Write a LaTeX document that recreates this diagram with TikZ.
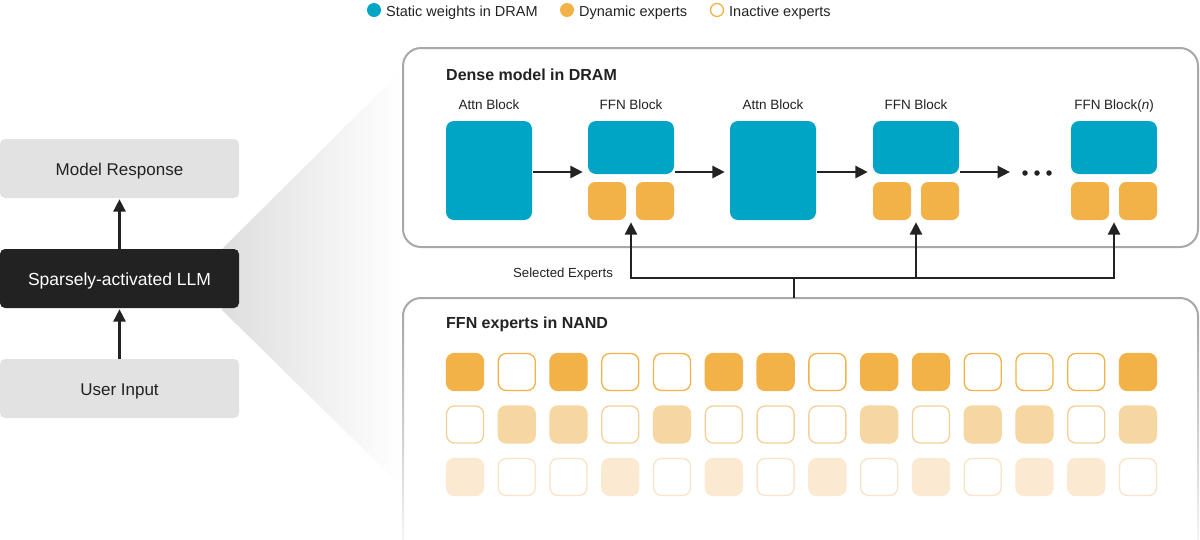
\documentclass[tikz,border=0pt]{standalone}
\usepackage{fontspec}
\setmainfont{Liberation Sans}
\usetikzlibrary{arrows.meta,calc}
\definecolor{tealw}{HTML}{00A4C4}
\definecolor{orng}{HTML}{F2B248}
\definecolor{orngB}{HTML}{F6D7A2}
\definecolor{orngBl}{HTML}{F4D099}
\definecolor{orngC}{HTML}{FBE9D2}
\definecolor{orngCl}{HTML}{FAE3C6}
\definecolor{ink}{HTML}{222222}
\definecolor{lgray}{HTML}{E2E2E2}
\definecolor{frame}{HTML}{A8A8A8}
\begin{document}
\begin{tikzpicture}[x=1pt,y=-1pt,
  lbox/.style={fill=lgray, rounded corners=5pt, minimum width=239pt, minimum height=59pt, inner sep=0pt, text=ink, text height=14pt, text depth=0pt, font=\fontsize{17}{20}\selectfont},
  dbox/.style={lbox, fill=ink, text=white, font=\fontsize{17.5}{20}\selectfont},
  arr/.style={draw=ink, line width=2.7pt, -{Triangle[length=12.5pt,width=12pt]}},
  tblock/.style={fill=tealw, rounded corners=8pt, inner sep=0pt},
  oexp/.style={fill=orng, rounded corners=7pt, inner sep=0pt, minimum width=38pt, minimum height=38pt},
  blabel/.style={text=ink, font=\fontsize{13.5}{16}\selectfont, inner sep=0pt, anchor=base},
  title/.style={text=ink, font=\bfseries\fontsize{16}{19}\selectfont, inner sep=0pt, anchor=base west},
  legtext/.style={text=ink, font=\fontsize{14.5}{17}\selectfont, inner sep=0pt, anchor=base west},
  cellbase/.style={rounded corners=8pt, inner sep=0pt, minimum width=37pt, minimum height=37pt, line width=1.3pt},
  cell11/.style={cellbase, fill=orng, draw=orng},
  cell10/.style={cellbase, fill=white, draw=orng},
  cell21/.style={cellbase, fill=orngB, draw=orngB},
  cell20/.style={cellbase, fill=white, draw=orngBl},
  cell31/.style={cellbase, fill=orngC, draw=orngC},
  cell30/.style={cellbase, fill=white, draw=orngCl},
  dot/.style={circle, fill=ink, inner sep=0pt, minimum size=5.5pt},
  sideline/.style={top color=frame, bottom color=white}
]
\useasboundingbox (0,0) rectangle (1200,539);

% wedge
\shade[left color=black!13, right color=white] (222,249) -- (402,70) -- (402,487) -- (222,310) -- cycle;

% legend
\node[circle, fill=tealw, inner sep=0pt, minimum size=14pt] (l1) at (374,10) {};
\node[legtext] (l1t) at (386,16.5) {Static weights in DRAM};
\node[circle, fill=orng, inner sep=0pt, minimum size=14pt] (l2) at (567,10) {};
\node[legtext] (l2t) at (579,16.5) {Dynamic experts};
\node[circle, draw=orng, fill=white, line width=1.3pt, inner sep=0pt, minimum size=13pt] (l3) at (717,10) {};
\node[legtext] (l3t) at (729,16.5) {Inactive experts};

% left column
\node[lbox] (resp) at (119.5,168.5) {Model Response};
\node[dbox] (llm) at (119.5,278.5) {Sparsely-activated LLM};
\node[lbox] (inp) at (119.5,388.5) {User Input};
\draw[arr, shorten >=1pt] (llm.north) -- (resp.south);
\draw[arr, shorten >=1pt] (inp.north) -- (llm.south);

% dense box
\node[draw=frame, line width=2pt, fill=white, rounded corners=18pt, minimum width=795pt, minimum height=199pt, inner sep=0pt] (dense) at (800.5,147.5) {};
\node[title] (denseT) at (446,80) {Dense model in DRAM};

% blocks
\node[tblock, minimum width=86pt, minimum height=99pt] (attn1) at (489,170.5) {};
\node[tblock, minimum width=86pt, minimum height=53pt] (ffn1) at (631,147.5) {};
\node[oexp] (e1a) at (607,201) {};
\node[oexp] (e1b) at (655,201) {};
\node[tblock, minimum width=86pt, minimum height=99pt] (attn2) at (773,170.5) {};
\node[tblock, minimum width=86pt, minimum height=53pt] (ffn2) at (916,147.5) {};
\node[oexp] (e2a) at (892,201) {};
\node[oexp] (e2b) at (940,201) {};
\node[tblock, minimum width=86pt, minimum height=53pt] (ffn3) at (1114,147.5) {};
\node[oexp] (e3a) at (1090,201) {};
\node[oexp] (e3b) at (1138,201) {};

\node[blabel] (la1) at (489,109.5) {Attn Block};
\node[blabel] (lf1) at (631,109.5) {FFN Block};
\node[blabel] (la2) at (773,109.5) {Attn Block};
\node[blabel] (lf2) at (916,109.5) {FFN Block};
\node[blabel] (lf3) at (1114,109.5) {FFN Block(\textit{n})};

\node[dot] (d1) at (1025,173) {};
\node[dot] (d2) at (1037,173) {};
\node[dot] (d3) at (1049,173) {};

\coordinate (hy) at (0,172);
\draw[arr, shorten <=1pt, shorten >=5pt] (attn1.east |- hy) -- (ffn1.west |- hy);
\draw[arr, shorten <=1pt, shorten >=5pt] (ffn1.east |- hy) -- (attn2.west |- hy);
\draw[arr, shorten <=1pt, shorten >=5pt] (attn2.east |- hy) -- (ffn2.west |- hy);
\coordinate (dotsin) at (1016,172);
\draw[arr, shorten <=1pt, shorten >=6pt] (ffn2.east |- hy) -- (dotsin);

% NAND box
\fill[white] (404,299) rectangle (1197,539);
\draw[draw=frame, line width=2pt, rounded corners=18pt] (403,316.5) -- (403,298) -- (1198,298) -- (1198,316.5);
\shade[sideline] (402,316) rectangle (404,570);
\shade[sideline] (1197,316) rectangle (1199,570);
\node[title] (nandT) at (446,328) {FFN experts in NAND};
\coordinate (nandtop) at (794,298);
\coordinate (j) at (794,278);

% selected experts connectors
\draw[arr, shorten >=2pt] (nandtop) -- (j) -| (ffn1.south |- e1a.south);
\draw[arr, shorten >=2pt] (nandtop) -- (j) -| (ffn2.south |- e2a.south);
\draw[arr, shorten >=2pt] (nandtop) -- (j) -| (ffn3.south |- e3a.south);
\node[blabel, font=\fontsize{13.2}{16}\selectfont] (sel) at (563,277) {Selected Experts};

% grid
\def\patA{1,0,1,0,0,1,1,0,1,1,0,0,0,1}
\def\patB{0,1,1,0,1,0,0,0,1,0,1,1,0,1}
\def\patC{1,0,0,1,0,1,0,1,0,1,0,1,1,0}
\foreach \v [count=\c] in \patA {\node[cell1\v] (g1-\c) at ({465+51.77*(\c-1)},372) {};}
\foreach \v [count=\c] in \patB {\node[cell2\v] (g2-\c) at ({465+51.77*(\c-1)},424.5) {};}
\foreach \v [count=\c] in \patC {\node[cell3\v] (g3-\c) at ({465+51.77*(\c-1)},477) {};}

\end{tikzpicture}
\end{document}
